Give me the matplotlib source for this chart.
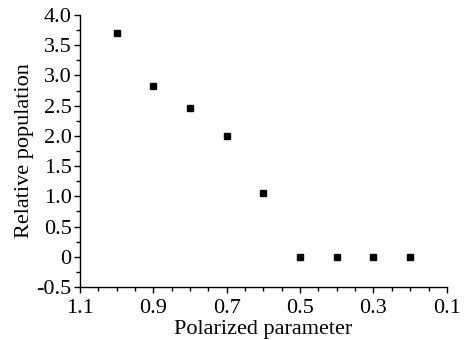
import numpy as np
import matplotlib
matplotlib.use('Agg')
import matplotlib.pyplot as plt
from matplotlib.ticker import MultipleLocator, FixedLocator, FuncFormatter

# Polarized parameter vs relative population
polarized = [1.0, 0.9, 0.8, 0.7, 0.6, 0.5, 0.4, 0.3, 0.2]
population = [3.70, 2.83, 2.46, 2.00, 1.06, 0.0, 0.0, 0.0, 0.0]
x_ticks = [1.1, 0.9, 0.7, 0.5, 0.3, 0.1]

plt.rcParams['font.family'] = 'Liberation Serif'

fig = plt.figure(figsize=(4.65, 3.4), dpi=100)
ax = fig.add_axes([0.172, 0.156, 0.789, 0.8])

ax.plot(polarized, population, 's', color='black', markersize=3.8, linestyle='none')

ax.set_xlim(1.1, 0.1)
ax.set_ylim(-0.5, 4.0)
ax.xaxis.set_major_locator(FixedLocator(x_ticks))
ax.xaxis.set_minor_locator(MultipleLocator(0.05))
ax.yaxis.set_major_locator(MultipleLocator(0.5))
ax.yaxis.set_minor_locator(MultipleLocator(0.25))

def fmt(v, pos):
    if abs(v) < 1e-9:
        return '0'
    return '%.1f' % v

ax.xaxis.set_major_formatter(FuncFormatter(lambda v, p: '%.1f' % v))
ax.yaxis.set_major_formatter(FuncFormatter(fmt))

for s in ['top', 'right']:
    ax.spines[s].set_visible(False)
for s in ['left', 'bottom']:
    ax.spines[s].set_linewidth(1.0)

ax.tick_params(which='major', direction='out', length=4, width=1, labelsize=16, pad=2)
ax.tick_params(axis='x', which='major', pad=5)
ax.tick_params(which='minor', direction='out', length=3, width=1)

ax.set_xlabel('Polarized parameter', fontsize=16, labelpad=1)
ax.set_ylabel('Relative population', fontsize=16, labelpad=2)

fig.savefig('out.png', dpi=100)
